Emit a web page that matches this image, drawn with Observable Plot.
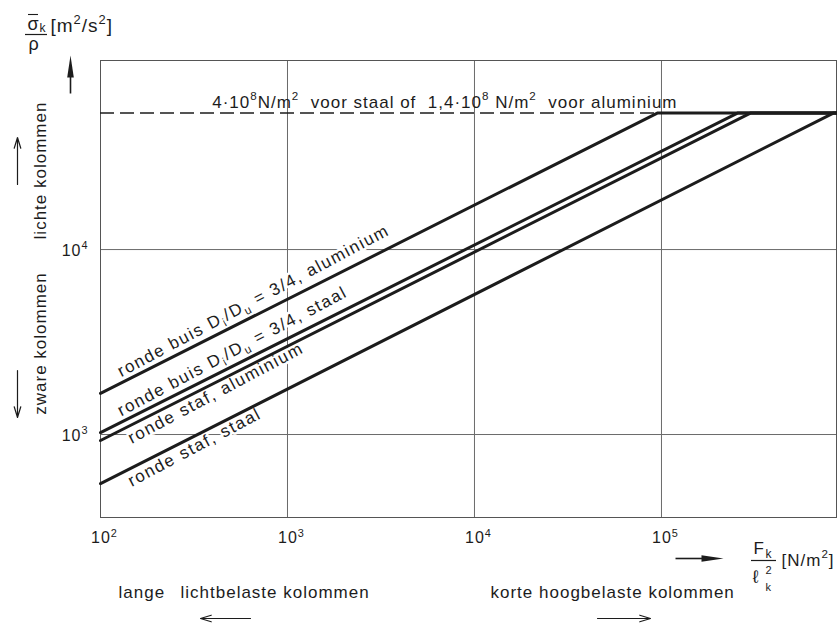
<!DOCTYPE html>
<html><head><meta charset="utf-8">
<script src="https://cdn.jsdelivr.net/npm/d3@7"></script>
<script src="https://cdn.jsdelivr.net/npm/@observablehq/plot@0.6"></script>
<style>
body{margin:0;background:#fff;}
svg text{letter-spacing:1px;}
svg text[stroke]{paint-order:stroke;}
</style></head><body><div id="chart"></div>
<script>
// ---- data ----
const series = ["ronde buis Dᵢ/Dᵤ = 3/4, aluminium", "ronde buis Dᵢ/Dᵤ = 3/4, staal", "ronde staf, aluminium", "ronde staf, staal"];
const startLoad  = [100, 100, 100, 100];          // F_k/ℓ_k² at the left edge [N/m²]
const startValue = [1670, 1025, 928, 543];        // σ_k/ρ at the left edge [m²/s²]
const kneeLoad   = [9.5e4, 2.55e5, 2.99e5, 8.3e5];// where each line reaches the plateau
const plateau = 5.47e4;                            // 4·10⁸/ρ_staal ≈ 1,4·10⁸/ρ_alu
const xTicks = [1e2, 1e3, 1e4, 1e5];
const xTickLabels = ["10²", "10³", "10⁴", "10⁵"];
const yTicks = [1e3, 1e4, plateau];
const yTickLabels = ["10³", "10⁴", "10⁵"];
const xGrid = [1e3, 1e4, 1e5];
const yGrid = [1e3, 1e4];
const labelAbove = [true, true, false, false];
const labelStart = 133;

// ---- layout ----
const W = 837, H = 624;
const M = {top: 60, right: 1, bottom: 107, left: 100};
const xDomain = [1e2, 8.63e5];
const yDomain = [356, 1.052e5];
const sx = d3.scaleLog(xDomain, [M.left, W - M.right]);
const sy = d3.scaleLog(yDomain, [H - M.bottom, M.top]);
const X = px => sx.invert(px), Y = py => sy.invert(py);
const ink = "#1c1c1c", grid = "#6a6a6a";

const rows = series.flatMap((s, i) => [
  {s, x: startLoad[i], y: startValue[i]},
  {s, x: kneeLoad[i], y: plateau},
  {s, x: xDomain[1], y: plateau}
]);

const lineAt = (i, x) => {
  const t = (Math.log(x) - Math.log(startLoad[i])) / (Math.log(kneeLoad[i]) - Math.log(startLoad[i]));
  return Math.exp(Math.log(startValue[i]) + t * (Math.log(plateau) - Math.log(startValue[i])));
};
const labels = series.map((s, i) => ({s, x: labelStart, y: lineAt(i, labelStart), above: labelAbove[i]}));
const ang = 28, g = 5, rad = ang * Math.PI / 180;

const txt = (t, px, py, o = {}) => Plot.text([t], {x: X(px), y: Y(py), text: d => d, lineAnchor: "bottom", fill: ink, ...o});
const hline = (px1, px2, py, w = 1.2) => Plot.ruleY([0], {y: Y(py), x1: X(px1), x2: X(px2), stroke: ink, strokeWidth: w});
const arrow = (x1, y1, x2, y2, o = {}) => Plot.arrow([0], {x1: X(x1), y1: Y(y1), x2: X(x2), y2: Y(y2), stroke: ink, strokeWidth: 1.2, headLength: 14, headAngle: 34, ...o});

const tallTri = {draw(ctx, size) { const r = Math.sqrt(size / Math.PI); ctx.moveTo(0, -r); ctx.lineTo(r * 0.3, r); ctx.lineTo(-r * 0.3, r); ctx.closePath(); }};

const chart = Plot.plot({
  width: W, height: H,
  marginTop: M.top, marginRight: M.right, marginBottom: M.bottom, marginLeft: M.left,
  style: {fontFamily: "'Liberation Sans', Arial, sans-serif", fontSize: "16px", color: ink, background: "#fff"},
  x: {type: "log", domain: xDomain, label: null},
  y: {type: "log", domain: yDomain, label: null},
  marks: [
    Plot.ruleX(xGrid, {stroke: grid, strokeWidth: 1}),
    Plot.ruleY(yGrid, {stroke: grid, strokeWidth: 1}),
    Plot.frame({stroke: "#555", strokeWidth: 1}),
    Plot.ruleY([plateau], {x1: xDomain[0], x2: kneeLoad[0], stroke: ink, strokeWidth: 1.6, strokeDasharray: "14,6"}),
    // labels along the lines (white halo interrupts the grid)
    Plot.text(labels.filter(d => d.above), {x: "x", y: "y", text: "s", rotate: -ang, textAnchor: "start", lineAnchor: "bottom",
      dx: -g * Math.sin(rad), dy: -g * Math.cos(rad), fill: ink, stroke: "white", strokeWidth: 5, fontSize: 17}),
    Plot.text(labels.filter(d => !d.above), {x: "x", y: "y", text: "s", rotate: -ang, textAnchor: "start", lineAnchor: "top",
      dx: g * Math.sin(rad), dy: g * Math.cos(rad), fill: ink, stroke: "white", strokeWidth: 5, fontSize: 17}),
    Plot.line(rows, {x: "x", y: "y", z: "s", stroke: ink, strokeWidth: 3, strokeLinejoin: "miter"}),
    txt("4·10⁸N/m²  voor staal of  1,4·10⁸ N/m²  voor aluminium", 677, 107, {textAnchor: "end", fontSize: 17}),
    Plot.axisX(xTicks, {tickFormat: d => xTickLabels[xTicks.indexOf(d)], tickSize: 0, tickPadding: 14.5, fontSize: 16, dx: 4, label: null}),
    Plot.axisY(yTicks, {tickFormat: d => yTickLabels[yTicks.indexOf(d)], tickSize: 0, tickPadding: 12, fontSize: 16, dy: 1.5, label: null}),
    // y-axis title  σ̄k / ρ  [m²/s²]
    txt("σ", 27, 29.5, {textAnchor: "start", fontSize: 18}),
    hline(28, 38, 14, 1.1),
    txt("k", 39, 31, {textAnchor: "start", fontSize: 12}),
    hline(25, 47, 34, 1.2),
    txt("ρ", 28, 49, {textAnchor: "start", fontSize: 18}),
    txt("[m²/s²]", 50, 31, {textAnchor: "start", fontSize: 19}),
    Plot.link([0], {x1: X(70), y1: Y(93), x2: X(70), y2: Y(70), stroke: ink, strokeWidth: 1.6}),
    Plot.dot([0], {x: X(70), y: Y(66), r: 11, symbol: tallTri, fill: ink, stroke: null}),
    // side labels
    txt("lichte kolommen", 40, 170, {rotate: -90, lineAnchor: "middle", fontSize: 17}),
    txt("zware kolommen", 40, 343, {rotate: -90, lineAnchor: "middle", fontSize: 17}),
    arrow(17, 184, 17, 137),
    arrow(17, 370, 17, 417),
    // x-axis title  Fk / ℓk²  [N/m²]
    Plot.link([0], {x1: X(675), y1: Y(558), x2: X(705), y2: Y(558), stroke: ink, strokeWidth: 1.6}),
    Plot.dot([0], {x: X(712), y: Y(558), r: 11, rotate: 90, symbol: tallTri, fill: ink, stroke: null}),
    txt("F", 753, 553, {textAnchor: "start", fontSize: 17}),
    txt("k", 765, 557, {textAnchor: "start", fontSize: 12}),
    hline(751, 776, 560),
    txt("ℓ", 752, 582, {textAnchor: "start", fontSize: 18}),
    txt("2", 765, 573.5, {textAnchor: "start", fontSize: 11}),
    txt("k", 765, 590, {textAnchor: "start", fontSize: 11}),
    txt("[N/m²]", 781, 565, {textAnchor: "start", fontSize: 17}),
    // bottom captions
    txt("lange", 118, 597, {textAnchor: "start", fontSize: 17}),
    txt("lichtbelaste kolommen", 180, 597, {textAnchor: "start", fontSize: 17}),
    txt("korte hoogbelaste kolommen", 490, 597, {textAnchor: "start", fontSize: 17}),
    arrow(250, 618, 200, 618),
    arrow(597, 618, 650, 618)
  ]
});

// turn Unicode super/subscript characters into real raised/lowered tspans
const SUP = {"⁰":"0","¹":"1","²":"2","³":"3","⁴":"4","⁵":"5","⁶":"6","⁷":"7","⁸":"8","⁹":"9"};
const SUB = {"ᵢ":"i","ᵤ":"u","ₖ":"k"};
function richify(root) {
  root.querySelectorAll("text").forEach(t => {
    const nodes = t.querySelector("tspan") ? [...t.querySelectorAll("tspan")] : [t];
    nodes.forEach(n => {
      const s = n.textContent;
      if (![...s].some(c => SUP[c] || SUB[c])) return;
      const holder = n.closest("[font-size]");
      const fs = parseFloat(holder ? holder.getAttribute("font-size") : 16) || 16;
      const runs = [];
      for (const c of s) {
        const type = SUP[c] ? "sup" : SUB[c] ? "sub" : "n";
        const ch = SUP[c] || SUB[c] || c;
        if (runs.length && runs[runs.length - 1].type === type) runs[runs.length - 1].s += ch;
        else runs.push({type, s: ch});
      }
      n.textContent = "";
      let cur = 0;
      for (const r of runs) {
        const target = r.type === "sup" ? -0.42 * fs : r.type === "sub" ? 0.24 * fs : 0;
        const ts = document.createElementNS("http://www.w3.org/2000/svg", "tspan");
        if (target !== cur) ts.setAttribute("dy", (target - cur).toFixed(2));
        if (r.type !== "n") ts.setAttribute("font-size", (0.68 * fs).toFixed(1));
        ts.textContent = r.s;
        n.appendChild(ts);
        cur = target;
      }
    });
  });
  // the labels along the lines are set with wider spacing, as in the reference
  root.querySelectorAll("text").forEach(t => {
    if ((t.getAttribute("transform") || "").includes("rotate(-28")) t.style.letterSpacing = "1.6px";
  });
}
document.getElementById("chart").appendChild(chart);
richify(chart);
</script></body></html>
